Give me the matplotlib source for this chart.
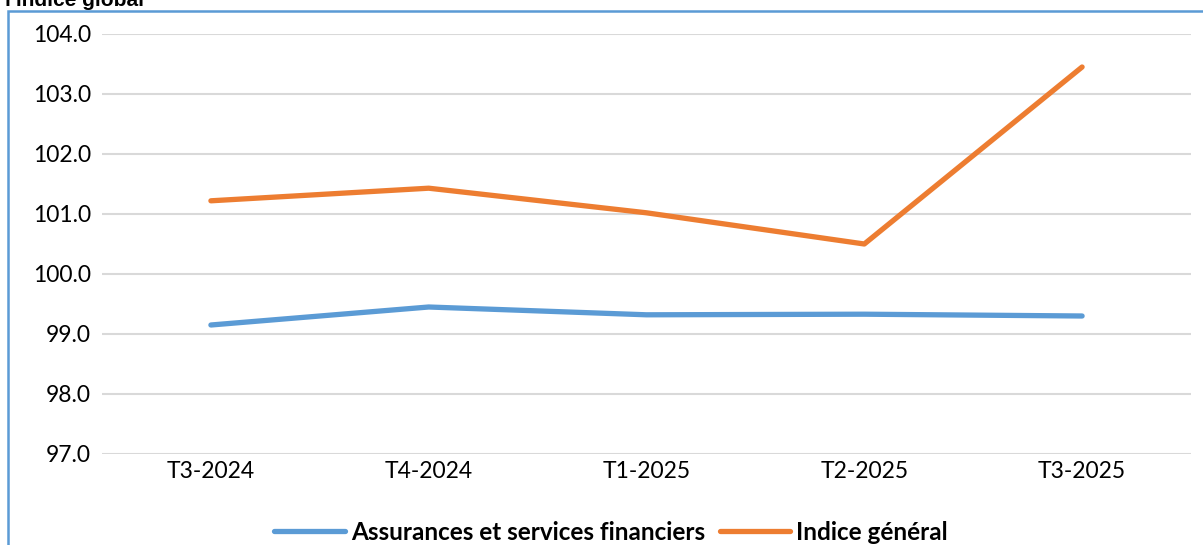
import matplotlib

matplotlib.use("Agg")
import matplotlib.pyplot as plt
from matplotlib.patches import Rectangle
from matplotlib.lines import Line2D

categories = ["T3-2024", "T4-2024", "T1-2025", "T2-2025", "T3-2025"]
assurances = [99.15, 99.45, 99.32, 99.33, 99.30]
indice_general = [101.22, 101.43, 101.02, 100.50, 103.45]
y_ticks = [97.0, 98.0, 99.0, 100.0, 101.0, 102.0, 103.0, 104.0]

W, H = 1203, 545
fig = plt.figure(figsize=(W / 100, H / 100), dpi=100)
ax = fig.add_axes([102 / W, 1 - 454 / H, (1191 - 102) / W, (454 - 34) / H])

x = list(range(len(categories)))
ax.plot(x, assurances, color="#5b9bd5", linewidth=3.8, solid_capstyle="round",
        label="Assurances et services financiers")
ax.plot(x, indice_general, color="#ed7d31", linewidth=3.8, solid_capstyle="round",
        label="Indice général")

ax.set_xlim(-0.5, len(categories) - 0.5)
ax.set_ylim(97.0, 104.0)
ax.set_yticks(y_ticks)
ax.set_yticklabels([f"{v:.1f}" for v in y_ticks], fontfamily="Lato", fontsize=16.5)
ax.set_xticks(x)
ax.set_xticklabels(categories, fontfamily="Lato", fontsize=16.5)
ax.tick_params(length=0, pad=8)
ax.tick_params(axis="x", pad=5)
ax.grid(axis="y", color="#d9d9d9", linewidth=1.5)
ax.set_axisbelow(True)
for side in ax.spines.values():
	side.set_visible(False)

# frame around the chart
fig.patches.append(Rectangle((8 / W, -0.1), 1.1, 1 - 11 / H + 0.1, transform=fig.transFigure,
                             fill=False, edgecolor="#5b9bd5", linewidth=1.8, clip_on=False))

fig.text(5 / W, 1 - 6 / H, "l'indice global", fontfamily="Liberation Sans", fontweight="bold",
         fontsize=15, va="baseline", ha="left")

handles = [
	Line2D([], [], color="#5b9bd5", linewidth=3.8, solid_capstyle="round"),
	Line2D([], [], color="#ed7d31", linewidth=3.8, solid_capstyle="round"),
]
fig.legend(handles, ["Assurances et services financiers", "Indice général"],
           loc="center", bbox_to_anchor=(611 / W, 1 - 532 / H), ncol=2, frameon=False,
           prop={"family": "Lato", "weight": "bold", "size": 17.5},
           handlelength=2.9, columnspacing=0.6, handletextpad=0.25)

fig.savefig("out.png", dpi=100)
plt.close(fig)
